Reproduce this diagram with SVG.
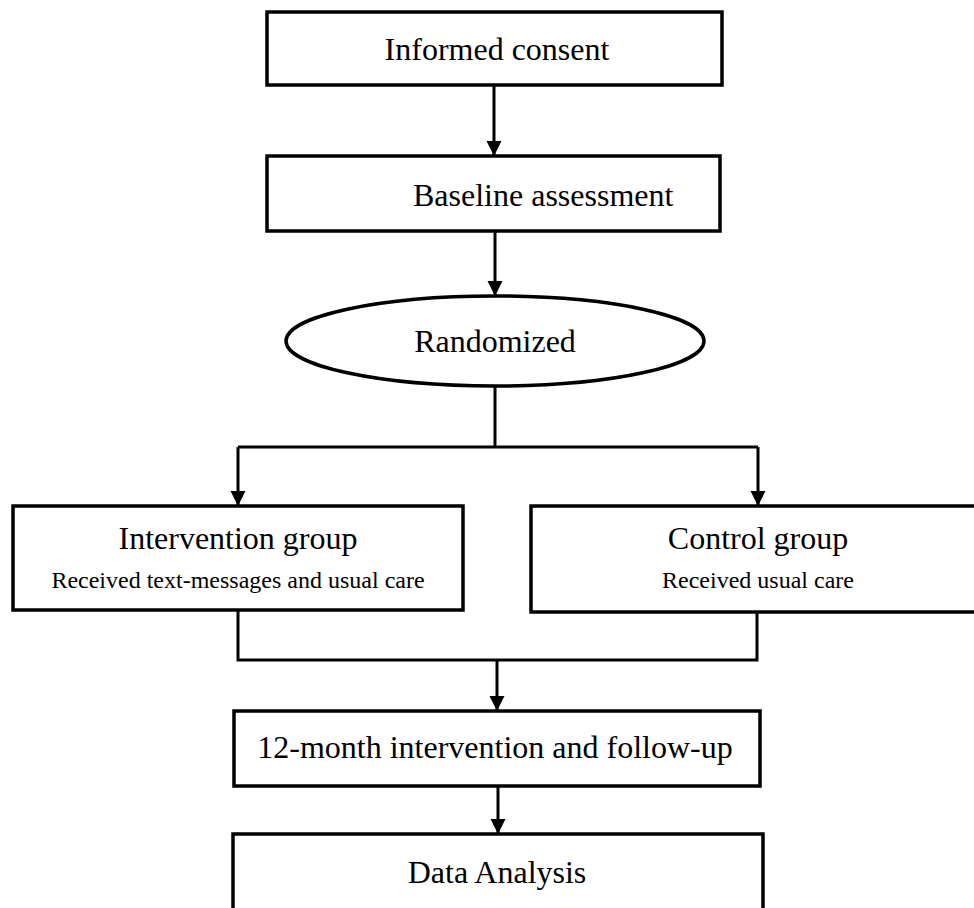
<svg xmlns="http://www.w3.org/2000/svg" width="974" height="908" viewBox="0 0 974 908">
<defs>
<marker id="ah" markerUnits="userSpaceOnUse" markerWidth="16" markerHeight="16" refX="15" refY="7.5" orient="auto">
<path d="M0,0 L15,7.5 L0,15 z" fill="#000"/>
</marker>
<style>
.box{fill:#fff;stroke:#000;stroke-width:3.5}
.t{font-family:"Liberation Serif","Times New Roman",serif;font-size:32px;fill:#000}
.s{font-family:"Liberation Serif","Times New Roman",serif;font-size:24px;fill:#000}
.c{text-anchor:middle}
.ln{fill:none;stroke:#000;stroke-width:3}
</style>
</defs>
<rect width="974" height="908" fill="#fff"/>
<g id="connectors">
<line class="ln" x1="494" y1="85" x2="494" y2="156" marker-end="url(#ah)"/>
<line class="ln" x1="495" y1="231" x2="495" y2="296" marker-end="url(#ah)"/>
<polyline class="ln" points="495,386 495,447"/>
<polyline class="ln" points="238,447 758,447"/>
<line class="ln" x1="238" y1="447" x2="238" y2="506" marker-end="url(#ah)"/>
<line class="ln" x1="758" y1="447" x2="758" y2="506" marker-end="url(#ah)"/>
<polyline class="ln" points="238,610 238,660 757,660 757,612"/>
<line class="ln" x1="497" y1="660" x2="497" y2="711" marker-end="url(#ah)"/>
<line class="ln" x1="498" y1="786" x2="498" y2="834" marker-end="url(#ah)"/>
</g>
<g id="informed-consent">
<rect class="box" x="267" y="12" width="455" height="73"/>
<text class="t c" x="497" y="60">Informed consent</text>
</g>
<g id="baseline-assessment">
<rect class="box" x="267" y="156" width="453" height="75"/>
<text class="t" x="413" y="206">Baseline assessment</text>
</g>
<g id="randomized">
<ellipse class="box" cx="495" cy="341" rx="209" ry="45"/>
<text class="t c" x="495" y="352">Randomized</text>
</g>
<g id="intervention-group">
<rect class="box" x="13" y="506" width="450" height="104"/>
<text class="t c" x="238" y="549">Intervention group</text>
<text class="s c" x="238" y="588">Received text-messages and usual care</text>
</g>
<g id="control-group">
<rect class="box" x="531" y="506" width="460" height="106"/>
<text class="t c" x="758" y="549">Control group</text>
<text class="s c" x="758" y="588">Received usual care</text>
</g>
<g id="follow-up">
<rect class="box" x="234" y="711" width="526" height="75"/>
<text class="t c" x="495" y="758">12-month intervention and follow-up</text>
</g>
<g id="data-analysis">
<rect class="box" x="233" y="834" width="530" height="90"/>
<text class="t c" x="497" y="883">Data Analysis</text>
</g>
</svg>
